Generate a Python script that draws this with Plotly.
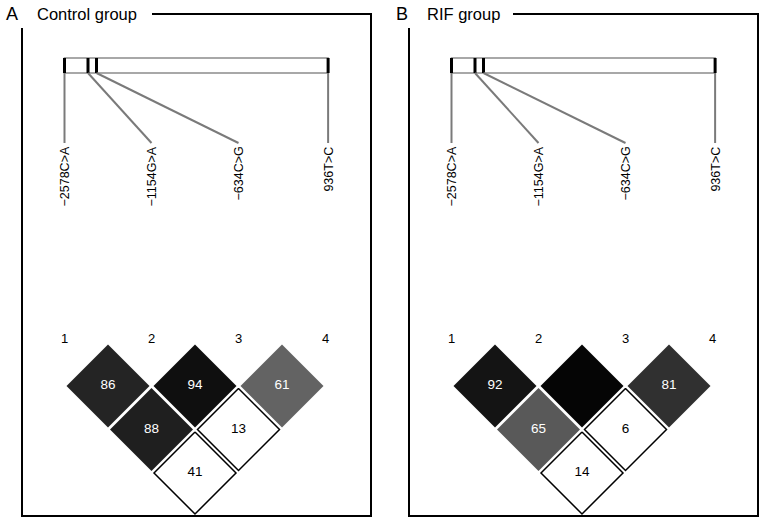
import plotly.graph_objects as go

# ---------------- data ----------------
marker_labels = ["−2578C>A", "−1154G>A", "−634C>G", "936T>C"]
marker_numbers = ["1", "2", "3", "4"]
marker_pos_kb = [0.0, 1.44, 1.96, 16.15]          # relative physical positions

pair_first = [1, 2, 3, 1, 2, 1]
pair_second = [2, 3, 4, 3, 4, 4]

control_dprime = [86, 94, 61, 88, 13, 41]
control_strong = [True, True, True, True, False, False]

rif_dprime = [92, 100, 81, 65, 6, 14]
rif_strong = [True, True, True, True, False, False]

panel_letters = ["A", "B"]
panel_titles = ["Control group", "RIF group"]

# ---------------- layout constants ----------------
W, H = 765, 524
PX = 87.0            # pixels per marker unit
M1_PX = 64.5         # pixel offset of marker 1 inside a panel
HALF_X = 41.5 / PX   # half diagonal of diamond in marker units
HALF_Y = 41.5        # half diagonal in pixels (y axis in px)
ROW1_Y = 386.0
ROW_STEP = 43.5
FONT = "Liberation Sans, Arial, Helvetica, sans-serif"

panel_left = [0, 387]
panel_right = [380, 765]
title_line_start = [152, 126]   # relative px where the top border line begins
letter_rel = [12, 15]
title_rel = [35, 38]

fig = go.Figure()
shapes = []
annotations = []


def grey_for(d, strong):
    if not strong:
        return "rgb(255,255,255)", 255
    g = int(round(255 * (1 - d / 100.0)))
    g = max(g, 5)
    return f"rgb({g},{g},{g})", g


datasets = [(control_dprime, control_strong), (rif_dprime, rif_strong)]

for p in range(2):
    xa = "x" if p == 0 else "x2"
    x0 = 1 - M1_PX / PX
    width = panel_right[p] - panel_left[p]
    xr = [x0, x0 + width / PX]

    def rel(px, x0=x0):
        return x0 + px / PX

    axis_cfg = dict(range=xr, domain=[panel_left[p] / W, panel_right[p] / W],
                    visible=False, fixedrange=True)
    if p == 0:
        fig.update_layout(xaxis=axis_cfg)
    else:
        fig.update_layout(xaxis2=dict(**axis_cfg, anchor="y"))

    # ---- panel frame ----
    lw = 2
    shapes += [
        dict(type="line", xref=xa, yref="y", x0=rel(title_line_start[p]), x1=rel(371),
             y0=14, y1=14, line=dict(color="black", width=lw)),
        dict(type="line", xref=xa, yref="y", x0=rel(371), x1=rel(371),
             y0=13, y1=517, line=dict(color="black", width=lw)),
        dict(type="line", xref=xa, yref="y", x0=rel(22), x1=rel(372),
             y0=516, y1=516, line=dict(color="black", width=lw)),
        dict(type="line", xref=xa, yref="y", x0=rel(22), x1=rel(22),
             y0=28, y1=517, line=dict(color="black", width=lw)),
    ]
    annotations.append(dict(xref=xa, yref="y", x=rel(letter_rel[p]), y=14,
                            text=panel_letters[p], showarrow=False,
                            font=dict(family=FONT, size=18, color="black"),
                            xanchor="center", yanchor="middle"))
    annotations.append(dict(xref=xa, yref="y", x=rel(title_rel[p]), y=14,
                            text=panel_titles[p], showarrow=False,
                            font=dict(family=FONT, size=16.5, color="black"),
                            xanchor="left", yanchor="middle"))

    # ---- gene bar ----
    span = marker_pos_kb[-1] - marker_pos_kb[0]
    bar_x = [1 + (k - marker_pos_kb[0]) / span * 3.03 for k in marker_pos_kb]
    shapes.append(dict(type="rect", xref=xa, yref="y", x0=bar_x[0], x1=bar_x[-1],
                       y0=58, y1=73, fillcolor="white",
                       line=dict(color="#8c8c8c", width=1.5), layer="below"))
    for i, bx in enumerate(bar_x):
        shapes.append(dict(type="line", xref=xa, yref="y", x0=bx, x1=bx, y0=58, y1=73,
                           line=dict(color="black", width=3)))
        lab_x = i + 1 if i < 3 else bx
        shapes.append(dict(type="line", xref=xa, yref="y", x0=bx, x1=lab_x, y0=73, y1=143,
                           line=dict(color="#7a7a7a", width=2)))
        annotations.append(dict(xref=xa, yref="y", x=lab_x, y=145, text=marker_labels[i],
                                textangle=-90, showarrow=False,
                                font=dict(family=FONT, size=12.5, color="black"),
                                xanchor="center", yanchor="top"))
        annotations.append(dict(xref=xa, yref="y", x=i + 1, y=338, text=marker_numbers[i],
                                showarrow=False,
                                font=dict(family=FONT, size=13, color="black"),
                                xanchor="center", yanchor="middle"))

    # ---- LD diamonds ----
    dvals, strong = datasets[p]
    for a, b, d, s in zip(pair_first, pair_second, dvals, strong):
        cx = (a + b) / 2.0
        cy = ROW1_Y + (b - a - 1) * ROW_STEP
        fill, g = grey_for(d, s)
        if s:
            hx, hy = HALF_X, HALF_Y
            line = dict(color=fill, width=0)
        else:
            hx, hy = HALF_X - 0.5 / PX, HALF_Y - 0.5
            line = dict(color="black", width=1.5)
        fig.add_trace(go.Scatter(
            x=[cx, cx + hx, cx, cx - hx, cx], y=[cy - hy, cy, cy + hy, cy, cy - hy],
            xaxis=xa, yaxis="y", mode="lines", fill="toself", fillcolor=fill,
            line=line, hoverinfo="skip", showlegend=False))
        if d < 100:
            fig.add_trace(go.Scatter(
                x=[cx], y=[cy], xaxis=xa, yaxis="y", mode="text", text=[str(d)],
                textfont=dict(family=FONT, size=13.5,
                              color="white" if g < 140 else "black"),
                hoverinfo="skip", showlegend=False))

fig.update_layout(
    width=W, height=H, margin=dict(l=0, r=0, t=0, b=0),
    paper_bgcolor="white", plot_bgcolor="white",
    yaxis=dict(range=[H, 0], domain=[0, 1], visible=False, fixedrange=True),
    shapes=shapes, annotations=annotations, showlegend=False,
)

fig.write_html("out.html", config={"displayModeBar": False},
               post_script="document.body.style.margin='0px';document.body.style.padding='0px';")
